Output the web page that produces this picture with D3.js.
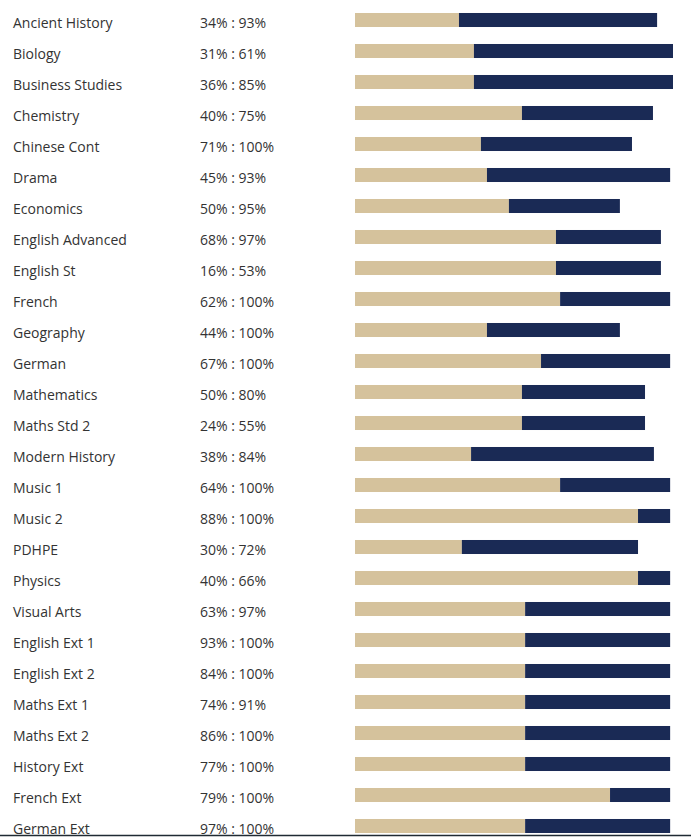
<!DOCTYPE html>
<html>
<head>
<meta charset="utf-8">
<script src="https://cdn.jsdelivr.net/npm/d3@7"></script>
<style>
  body { margin: 0; background: #fff; }
  text { font-family: "Open Sans", sans-serif; font-size: 14px; fill: #333; }
</style>
</head>
<body>
<script>
var subjects = ['Ancient History', 'Biology', 'Business Studies', 'Chemistry', 'Chinese Cont',
  'Drama', 'Economics', 'English Advanced', 'English St', 'French', 'Geography', 'German',
  'Mathematics', 'Maths Std 2', 'Modern History', 'Music 1', 'Music 2', 'PDHPE', 'Physics',
  'Visual Arts', 'English Ext 1', 'English Ext 2', 'Maths Ext 1', 'Maths Ext 2', 'History Ext',
  'French Ext', 'German Ext']
var ratios = ['34% : 93%', '31% : 61%', '36% : 85%', '40% : 75%', '71% : 100%', '45% : 93%',
  '50% : 95%', '68% : 97%', '16% : 53%', '62% : 100%', '44% : 100%', '67% : 100%', '50% : 80%',
  '24% : 55%', '38% : 84%', '64% : 100%', '88% : 100%', '30% : 72%', '40% : 66%', '63% : 97%',
  '93% : 100%', '84% : 100%', '74% : 91%', '86% : 100%', '77% : 100%', '79% : 100%', '97% : 100%']
// bar segments (tan part, navy part)
var tanPart = [32.7, 37.4, 37.4, 52.5, 39.6, 41.5, 48.4, 63.2, 63.2, 64.5, 41.5, 58.5, 52.5,
  52.5, 36.5, 64.5, 89.0, 33.6, 89.0, 53.5, 53.5, 53.5, 53.5, 53.5, 53.5, 80.2, 53.5]
var navyPart = [62.3, 62.6, 62.6, 41.2, 47.5, 57.6, 34.9, 33.0, 33.0, 34.6, 41.8, 40.6, 38.7,
  38.7, 57.5, 34.6, 10.1, 55.4, 10.1, 45.6, 45.6, 45.6, 45.6, 45.6, 45.6, 18.9, 45.6]

var width = 691
var height = 837
var rowH = 31

var data = subjects.map(function (s, i) {
  return {subject: s, ratio: ratios[i], a: tanPart[i], b: navyPart[i]}
})

var x = d3.scaleLinear().domain([0, 100]).range([355, 673])
var y = d3.scaleBand().domain(subjects).range([4.5, 4.5 + rowH * subjects.length]).paddingInner(0.548).paddingOuter(0.274)

var svg = d3.select('body').append('svg')
  .attr('width', width)
  .attr('height', height)

var row = svg.selectAll('g.row')
  .data(data)
  .enter().append('g')
  .attr('class', 'row')

row.append('text')
  .attr('x', 13)
  .attr('y', d => y(d.subject) + y.bandwidth() / 2 + 3)
  .attr('dy', '0.35em')
  .text(d => d.subject)

row.append('text')
  .attr('x', 200)
  .attr('y', d => y(d.subject) + y.bandwidth() / 2 + 3)
  .attr('dy', '0.35em')
  .text(d => d.ratio)

row.append('rect')
  .attr('x', x(0))
  .attr('y', d => y(d.subject))
  .attr('width', d => x(d.a) - x(0))
  .attr('height', y.bandwidth())
  .attr('fill', '#d5c29c')

row.append('rect')
  .attr('x', d => x(d.a))
  .attr('y', d => y(d.subject))
  .attr('width', d => x(d.a + d.b) - x(d.a))
  .attr('height', y.bandwidth())
  .attr('fill', '#1a2a55')

svg.append('line')
  .attr('x1', 0).attr('x2', width)
  .attr('y1', 835.5).attr('y2', 835.5)
  .attr('stroke', '#1f2a33')
  .attr('stroke-width', 1.5)
</script>
</body>
</html>
